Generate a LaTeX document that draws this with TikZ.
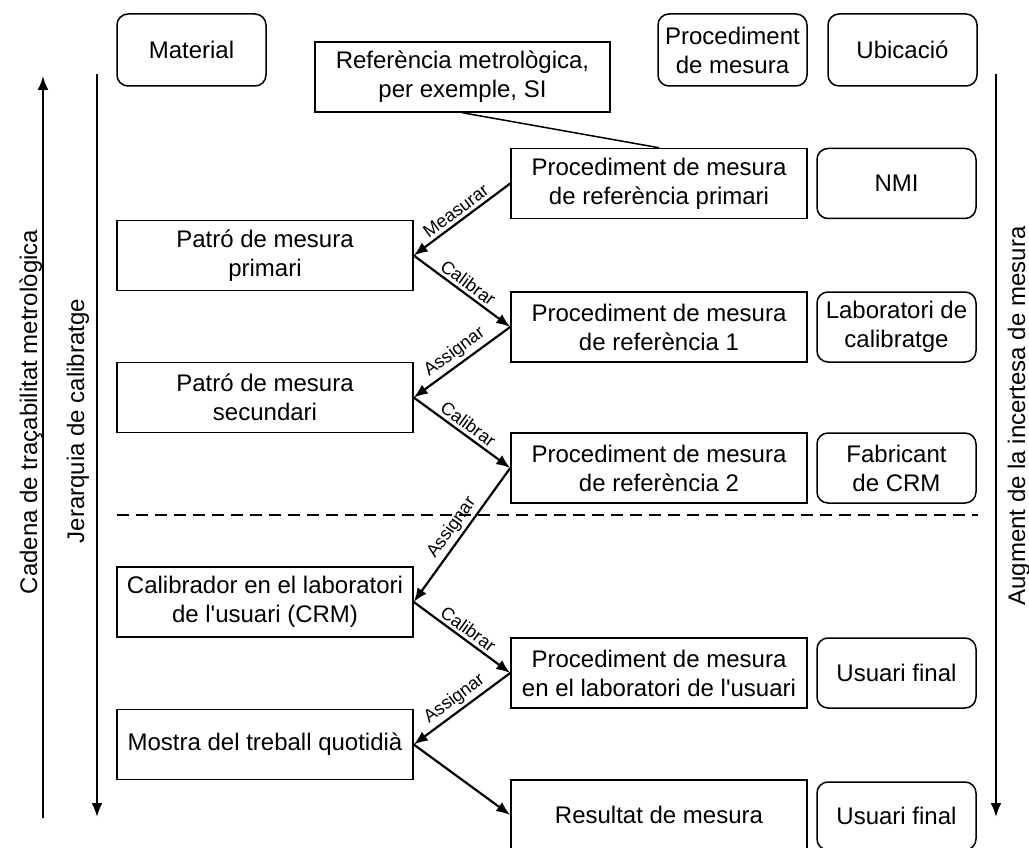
\documentclass[tikz,border=0pt]{standalone}
\usepackage{fontspec}
\setmainfont{Liberation Sans}
\usetikzlibrary{arrows.meta}
\begin{document}
\begin{tikzpicture}[x=1pt,y=-1pt,
  txt/.style={font=\fontsize{24}{29}\selectfont},
  box/.style={txt, draw, line width=1.5pt, minimum width=296pt, minimum height=70pt, align=center, inner sep=0pt},
  rbox/.style={txt, draw, line width=1.5pt, rounded corners=11pt, minimum width=159pt, minimum height=70pt, align=center, inner sep=0pt},
  hbox/.style={rbox, minimum width=149pt, minimum height=72pt},
  conn/.style={line width=2.2pt, -{Latex[length=14pt,width=11pt]}},
  lbl/.style={sloped, above, font=\fontsize{18}{21}\selectfont, inner sep=3pt},
  side/.style={txt, rotate=90, anchor=base, inner sep=0pt},
  axis/.style={line width=2.2pt}
]
\useasboundingbox (0,0) rectangle (1029,848);

% header
\node[hbox] (hmat) at (191.5,50) {Material};
\node[hbox] (hproc) at (732.5,50) {Procediment\\de mesura};
\node[hbox] (hubi) at (902.5,50) {Ubicació};
\node[box, minimum width=295pt] (ref) at (462.5,77) {Referència metrològica,\\per exemple, SI};

% procedure column
\node[box] (pp) at (659,183.5) {Procediment de mesura\\de referència primari};
\node[box] (p1) at (659,327) {Procediment de mesura\\de referència 1};
\node[box] (p2) at (659,468) {Procediment de mesura\\de referència 2};
\node[box] (pu) at (659,673) {Procediment de mesura\\en el laboratori de l\textquotesingle usuari};
\node[box] (res) at (659,815) {Resultat de mesura};

% material column
\node[box] (m1) at (265,255.5) {Patró de mesura\\primari};
\node[box] (m2) at (265,397.5) {Patró de mesura\\secundari};
\node[box] (m3) at (265,602) {Calibrador en el laboratori\\de l\textquotesingle usuari (CRM)};
\node[box] (m4) at (265,744.5) {Mostra del treball quotidià};

% location column
\node[rbox] (l1) at (896.5,183.5) {NMI};
\node[rbox] (l2) at (896.5,327) {Laboratori de\\calibratge};
\node[rbox] (l3) at (896.5,468) {Fabricant\\de CRM};
\node[rbox] (l4) at (896.5,673) {Usuari final};
\node[rbox, minimum height=68pt] (l5) at (896.5,816) {Usuari final};

% connectors
\draw[line width=1.5pt] (ref.south) -- (pp.north);
\draw[conn] (pp.west) -- node[lbl] {Measurar} (m1.east);
\draw[conn] (m1.east) -- node[lbl] {Calibrar} (p1.west);
\draw[conn] (p1.west) -- node[lbl] {Assignar} (m2.east);
\draw[conn] (m2.east) -- node[lbl] {Calibrar} (p2.west);
\draw[conn] (p2.west) -- node[lbl] {Assignar} (m3.east);
\draw[conn] (m3.east) -- node[lbl] {Calibrar} (pu.west);
\draw[conn] (pu.west) -- node[lbl] {Assignar} (m4.east);
\draw[conn] (m4.east) -- (res.west);

% dashed separator
\coordinate (dsA) at (117,515);
\coordinate (dsB) at (978,515);
\draw[line width=2.2pt, dash pattern=on 12pt off 7pt] (dsA) -- (dsB);

% side axes
\coordinate (caB) at (43,818);
\coordinate (caT) at (43,76);
\draw[axis, -{Latex[length=14pt,width=11pt]}] (caB) -- (caT);
\coordinate (jeT) at (97,74);
\coordinate (jeB) at (97,817);
\draw[axis, -{Latex[length=14pt,width=11pt]}] (jeT) -- (jeB);
\coordinate (auT) at (996,74);
\coordinate (auB) at (996,817);
\draw[axis, -{Latex[length=14pt,width=11pt]}] (auT) -- (auB);

\node[side] (tca) at (37,412) {Cadena de traçabilitat metrològica};
\node[side] (tje) at (84,421) {Jerarquia de calibratge};
\node[side] (tau) at (1025,416) {Augment de la incertesa de mesura};
\end{tikzpicture}
\end{document}
